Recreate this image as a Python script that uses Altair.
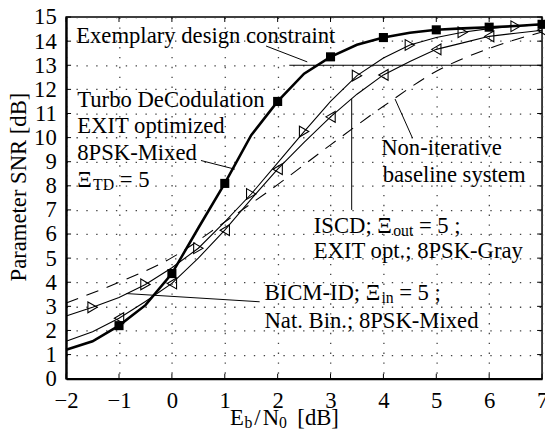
import altair as alt
import pandas as pd

# ---------------- data ----------------
x_half = [-2, -1.5, -1, -0.5, 0, 0.5, 1, 1.5, 2, 2.5, 3, 3.5, 4, 4.5, 5, 5.5, 6, 6.5, 7]
td_snr = [1.2, 1.55, 2.2, 3.05, 4.36, 6.25, 8.1, 10.1, 11.5, 12.65, 13.35, 13.85,
          14.15, 14.35, 14.47, 14.53, 14.58, 14.63, 14.7]
bicm_snr = [2.6, 2.96, 3.37, 3.91, 4.6, 5.41, 6.5, 7.66, 8.95, 10.25, 11.5, 12.57,
            13.3, 13.84, 14.15, 14.37, 14.52, 14.62, 14.68]
iscd_snr = [1.55, 1.95, 2.51, 3.2, 3.95, 5.0, 6.16, 7.45, 8.69, 9.8, 10.86, 11.8,
            12.6, 13.16, 13.66, 13.93, 14.2, 14.33, 14.45]
base_x = [-2, -1, 0, 1, 2, 3, 4, 5, 6, 7]
base_snr = [3.14, 4.0, 5.02, 6.5, 8.05, 9.7, 11.3, 12.75, 13.7, 14.38]

x_ticks = [-2, -1, 0, 1, 2, 3, 4, 5, 6, 7]
y_ticks = list(range(0, 16))

constraint = [{"x": 2.22, "x2": 7.0, "y": 13.0, "y2": 13.0}]
leaders = [
    {"x": 1.78, "y": 13.8, "x2": 2.56, "y2": 13.14},
    {"x": 0.55, "y": 9.05, "x2": 1.19, "y2": 8.69},
    {"x": -0.86, "y": 3.53, "x2": 1.66, "y2": 3.19},
    {"x": 3.4, "y": 11.6, "x2": 3.4, "y2": 7.0},
    {"x": 4.22, "y": 11.6, "x2": 4.55, "y2": 9.98},
]

label_text = ["Exemplary design constraint", "Turbo DeCodulation", "EXIT optimized",
              "8PSK-Mixed", "Ξ", "TD", "= 5",
              "Non-iterative", "baseline system",
              "ISCD; Ξ", "out", "= 5 ;", "EXIT opt.; 8PSK-Gray",
              "BICM-ID; Ξ", "in", "= 5 ;", "Nat. Bin.; 8PSK-Mixed",
              "E", "b", "/", "N", "0", "[dB]"]
label_x = [-1.81, -1.79, -1.79, -1.79, -1.79, -1.491, -0.985,
           3.957, 3.987,
           2.683, 4.186, 4.671, 2.683,
           1.751, 3.963, 4.298, 1.751,
           1.099, 1.373, 1.559, 1.717, 2.025, 2.373]
label_y = [13.91, 11.28, 10.18, 9.07, 7.94, 7.82, 7.94,
           9.27, 8.14,
           6.05, 5.93, 6.05, 5.0,
           3.27, 3.15, 3.27, 2.11,
           -1.92, -2.04, -1.92, -1.92, -2.04, -1.92]
label_size = [23, 23, 23, 23, 23, 16, 23,
              23, 23,
              23, 16, 23, 23,
              23, 16, 23, 23,
              23, 16, 23, 23, 16, 23]

# ---------------- frames ----------------
curves = pd.DataFrame({"x": x_half, "td": td_snr, "bicm": bicm_snr, "iscd": iscd_snr})
curves["int"] = [float(v).is_integer() for v in x_half]
base = pd.DataFrame({"x": base_x, "snr": base_snr})
labels = pd.DataFrame({"t": label_text, "x": label_x, "y": label_y, "s": label_size})

FONT = "Liberation Serif"
xs = alt.Scale(domain=[-2, 7], nice=False)
ys = alt.Scale(domain=[0, 15], nice=False)

XAXIS = alt.Axis(values=x_ticks, format="d", labelOverlap=False, grid=True,
                 tickSize=0, labelPadding=11, labelFlush=False)
YAXIS = alt.Axis(values=y_ticks, format="d", labelOverlap=False, grid=True,
                 tickSize=0, labelPadding=10, labelFlush=False,
                 titleX=-48, titleY=172, titleAngle=270,
                 titleBaseline="middle", titleAlign="center")
YTITLE = "Parameter SNR [dB]"


def ex(field="x"):
    return alt.X(f"{field}:Q", scale=xs, axis=XAXIS, title=None)


def ey(field):
    return alt.Y(f"{field}:Q", scale=ys, axis=YAXIS, title=YTITLE)


cb = alt.Chart(curves)
td_line = cb.mark_line(color="black", strokeWidth=2.6).encode(x=ex(), y=ey("td"))
bicm_line = cb.mark_line(color="black", strokeWidth=1.1).encode(x=ex(), y=ey("bicm"))
iscd_line = cb.mark_line(color="black", strokeWidth=1.1).encode(x=ex(), y=ey("iscd"))
base_line = alt.Chart(base).mark_line(color="black", strokeWidth=1.1,
                                      strokeDash=[13, 9], interpolate="monotone").encode(
    x=ex(), y=ey("snr"))

td_pts = cb.transform_filter("datum.int && datum.x > -2").mark_point(
    shape="square", size=85, filled=True, color="black", opacity=1).encode(
    x=ex(), y=ey("td"))
bicm_pts = cb.transform_filter("!datum.int").mark_point(
    shape="triangle-right", size=120, filled=False, color="black", strokeWidth=1.1,
    opacity=1).encode(x=ex(), y=ey("bicm"))
iscd_pts = cb.transform_filter("datum.int && datum.x > -2").mark_point(
    shape="triangle-left", size=120, filled=False, color="black", strokeWidth=1.1,
    opacity=1).encode(x=ex(), y=ey("iscd"))

cons = alt.Chart(pd.DataFrame(constraint)).mark_rule(color="black", strokeWidth=1.2).encode(
    x=ex(), x2="x2:Q", y=ey("y"), y2="y2:Q")
lead = alt.Chart(pd.DataFrame(leaders)).mark_rule(color="black", strokeWidth=1.0).encode(
    x=ex(), x2="x2:Q", y=ey("y"), y2="y2:Q")

txt = alt.Chart(labels).mark_text(font=FONT, align="left", baseline="alphabetic",
                                  color="black").encode(
    x=ex(), y=ey("y"), text="t:N", size=alt.Size("s:Q", scale=None))

xt = pd.DataFrame({"x": x_ticks})
yt = pd.DataFrame({"y": y_ticks})
top_ticks = alt.Chart(xt).mark_rule(color="black", strokeWidth=1).encode(
    x=ex(), y=alt.value(0), y2=alt.value(5))
bot_ticks = alt.Chart(xt).mark_rule(color="black", strokeWidth=1).encode(
    x=ex(), y=alt.value(367), y2=alt.value(362))
left_ticks = alt.Chart(yt).mark_rule(color="black", strokeWidth=1).encode(
    y=ey("y"), x=alt.value(0), x2=alt.value(5))
right_ticks = alt.Chart(yt).mark_rule(color="black", strokeWidth=1).encode(
    y=ey("y"), x=alt.value(483), x2=alt.value(478))

chart = alt.layer(
    top_ticks, bot_ticks, left_ticks, right_ticks,
    base_line, iscd_line, bicm_line, td_line,
    cons, lead, iscd_pts, bicm_pts, td_pts, txt
).properties(
    width=483, height=367,
    autosize=alt.AutoSizeParams(type="none"),
    padding={"left": 59, "top": 6, "right": 3, "bottom": 56},
    background="white",
).configure_view(
    stroke="black", strokeWidth=1.5
).configure_axis(
    labelFont=FONT, labelFontSize=23, labelColor="black", labelOverlap=False,
    titleFont=FONT, titleFontSize=23, titleFontWeight="normal", titleColor="black",
    domainColor="black", domainWidth=2.2,
    gridColor="#444", gridDash=[1.4, 8.6], gridWidth=1.3,
)

chart.save("out.html", embed_options={"renderer": "svg", "actions": False})
